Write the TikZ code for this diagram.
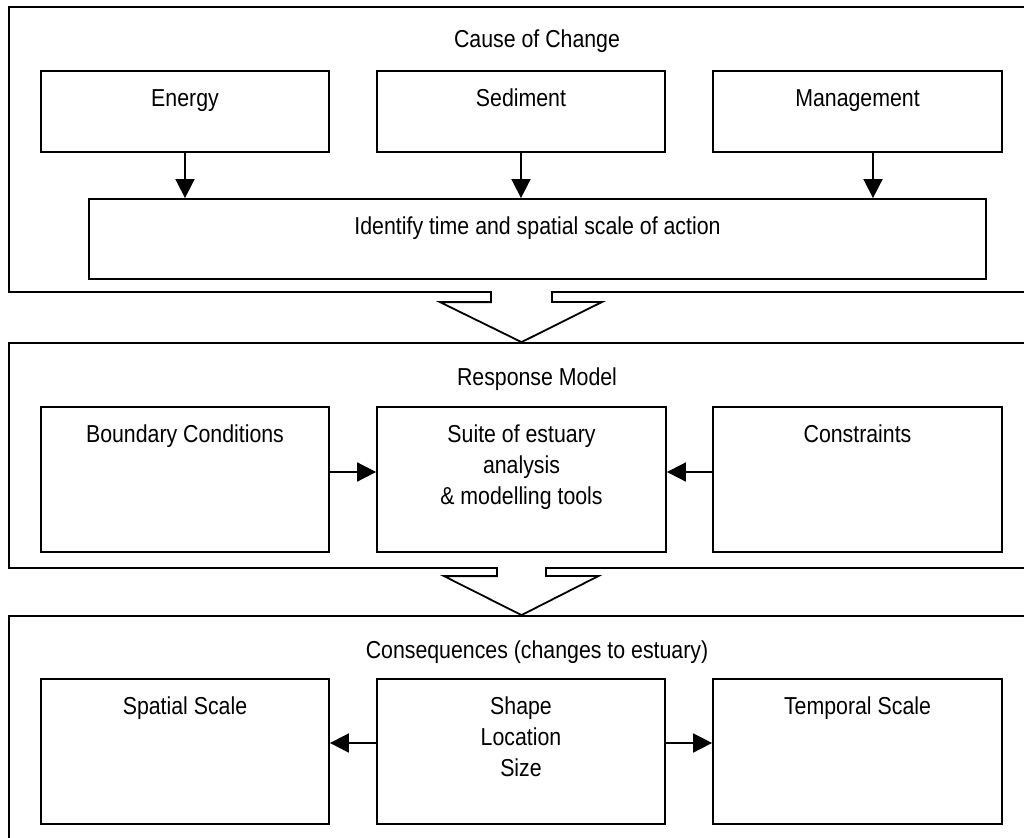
\documentclass[tikz,border=0pt]{standalone}
\usepackage{fontspec}
\setmainfont{Liberation Sans}[FakeStretch=0.87]
\usetikzlibrary{arrows.meta}

\tikzset{
  panel/.style={draw, line width=1.8pt, inner sep=0pt, fill=none},
  stepbox/.style={draw, line width=1.8pt, inner sep=0pt, minimum width=288pt},
  txt/.style={inner sep=0pt, anchor=base, align=center,
    font=\fontsize{24.5}{31}\selectfont},
  arr/.style={line width=1.8pt, -{Triangle[length=19pt,width=19pt]}},
  blockarrow/.style={draw, fill=white, line width=1.8pt, line join=miter},
}

\begin{document}
\begin{tikzpicture}[x=1pt, y=-1pt]
\useasboundingbox (0,0) rectangle (1024,837);
\clip (0,0) rectangle (1024,837);

% three stacked panels (open to the right and bottom edge of the page)
\node[panel, minimum width=1056pt, minimum height=285pt] (causepanel) at (537,149.5) {};
\node[panel, minimum width=1056pt, minimum height=225pt] (responsepanel) at (537,455.5) {};
\node[panel, minimum width=1056pt, minimum height=264pt] (consqpanel) at (537,748) {};

% panel titles
\node[txt] (causetitle) at (537,48) {Cause of Change};
\node[txt] (responsetitle) at (537,385) {Response Model};
\node[txt] (consqtitle) at (537,658) {Consequences (changes to estuary)};

% cause of change
\node[stepbox, minimum height=81pt] (en) at (185,111.5) {};
\node[stepbox, minimum height=81pt] (se) at (521,111.5) {};
\node[stepbox, minimum height=81pt, minimum width=289pt] (mg) at (857.5,111.5) {};
\node[stepbox, minimum height=80pt, minimum width=897pt] (id) at (537.5,239) {};
\node[txt] (en-t) at ([yshift=-36.5pt]en.north) {Energy};
\node[txt] (se-t) at ([yshift=-36.5pt]se.north) {Sediment};
\node[txt] (mg-t) at ([yshift=-36.5pt]mg.north) {Management};
\node[txt] (id-t) at ([yshift=-36.5pt]id.north) {Identify time and spatial scale of action};

\coordinate (mgout) at ([xshift=15.5pt]mg.south);
\draw[arr] (en.south) -- (en.south |- id.north);
\draw[arr] (se.south) -- (se.south |- id.north);
\draw[arr] (mgout) -- (mgout |- id.north);

% response model
\node[stepbox, minimum height=145pt] (bc) at (185,479.5) {};
\node[stepbox, minimum height=145pt, minimum width=289pt] (su) at (521.5,479.5) {};
\node[stepbox, minimum height=145pt, minimum width=289pt] (co) at (857.5,479.5) {};
\node[txt] (bc-t) at ([yshift=-36.5pt]bc.north) {Boundary Conditions};
% three-line labels: the base anchor sits on the last line
\node[txt] (su-t) at ([yshift=-98.5pt]su.north) {Suite of estuary\\analysis\\\& modelling tools};
\node[txt] (co-t) at ([yshift=-36.5pt]co.north) {Constraints};

\draw[arr] ([yshift=7.5pt]bc.east) -- ([yshift=7.5pt]su.west);
\draw[arr] ([yshift=7.5pt]co.west) -- ([yshift=7.5pt]su.east);

% consequences
\node[stepbox, minimum height=145pt] (sp) at (185,751.5) {};
\node[stepbox, minimum height=145pt] (sh) at (521,751.5) {};
\node[stepbox, minimum height=145pt, minimum width=289pt] (tp) at (857.5,751.5) {};
\node[txt] (sp-t) at ([yshift=-36.5pt]sp.north) {Spatial Scale};
\node[txt] (sh-t) at ([yshift=-98.5pt]sh.north) {Shape\\Location\\Size};
\node[txt] (tp-t) at ([yshift=-36.5pt]tp.north) {Temporal Scale};

\draw[arr] ([yshift=8.5pt]sh.west) -- ([yshift=8.5pt]sp.east);
\draw[arr] ([yshift=8.5pt]sh.east) -- ([yshift=8.5pt]tp.west);

% hollow block arrows linking the panels
\coordinate (b1top) at (521.5,291.1);
\coordinate (b1tip) at (responsepanel.north -| b1top);
\path[blockarrow] ([xshift=-30.5pt]b1top) -- ++(0,11) -- ++(-51,0)
  -- (b1tip) -- ([xshift=80.5pt, yshift=-10.9pt]b1top) -- ([xshift=30.5pt, yshift=-10.9pt]b1top)
  -- ([xshift=30.5pt]b1top);

\coordinate (b2top) at (521.5,567.1);
\coordinate (b2tip) at (consqpanel.north -| b2top);
\path[blockarrow] ([xshift=-24.5pt]b2top) -- ++(0,9) -- ++(-53,0)
  -- (b2tip) -- ([xshift=77pt, yshift=-8.9pt]b2top) -- ([xshift=24.5pt, yshift=-8.9pt]b2top)
  -- ([xshift=24.5pt]b2top);
\end{tikzpicture}
\end{document}
